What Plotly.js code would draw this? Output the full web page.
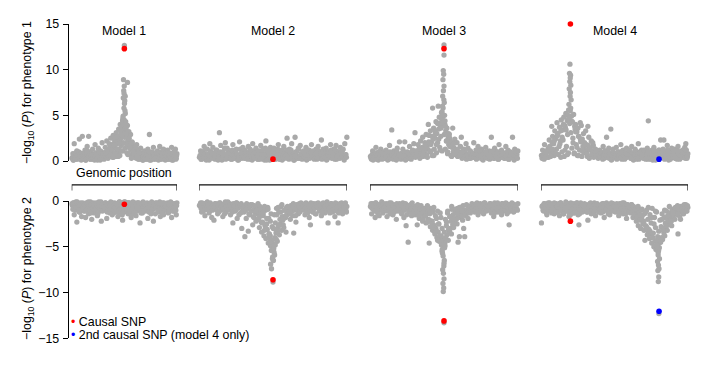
<!DOCTYPE html>
<html><head><meta charset="utf-8">
<script src="https://cdn.plot.ly/plotly-3.0.1.min.js"></script>
<style>html,body{margin:0;padding:0;background:#fff}#chart{width:725px;height:365px}</style>
</head><body><div id="chart"></div>
<script>
// ---------- DATA ----------
const modelNames = ['Model 1', 'Model 2', 'Model 3', 'Model 4'];
const posRange = [0, 100]; // genomic window (arbitrary units)

// background SNP positions, set A
const bgPos = [0.3,1.1,1.8,2.4,3.5,4.0,4.9,5.6,6.2,7.3,7.9,8.6,9.4,
10.1,10.9,11.5,12.6,13.2,13.8,14.7,15.5,16.1,16.9,17.8,18.4,19.0,19.9,
20.7,21.3,22.2,22.9,23.5,24.4,25.2,25.8,26.7,27.4,28.1,28.9,29.6,
30.4,31.0,31.9,32.5,33.3,34.2,34.8,35.6,36.3,37.1,37.9,38.5,39.4,
40.0,40.8,41.7,42.3,43.0,43.9,44.6,45.2,46.1,46.8,47.5,48.3,49.1,49.8,
50.6,51.2,52.0,52.9,53.6,54.3,55.0,55.9,56.5,57.3,58.2,58.8,59.5,
60.4,61.1,61.7,62.6,63.3,64.0,64.9,65.5,66.2,67.1,67.8,68.4,69.3,
70.1,70.7,71.6,72.3,73.0,73.8,74.5,75.3,76.0,76.8,77.6,78.2,79.1,79.7,
80.5,81.4,82.0,82.7,83.6,84.2,85.0,85.9,86.5,87.2,88.0,88.9,89.5,
90.3,91.1,91.8,92.6,93.2,94.0,94.9,95.5,96.3,97.0,97.8,98.5,99.3,99.9];
// background SNP positions, set B
const bgPosB = [0.7,1.4,2.1,3.0,3.8,4.5,5.2,5.9,6.8,7.6,8.2,9.0,9.8,
10.5,11.2,12.0,12.9,13.5,14.3,15.0,15.8,16.5,17.3,18.1,18.7,19.5,
20.3,21.0,21.7,22.5,23.2,24.0,24.8,25.5,26.2,27.0,27.8,28.5,29.2,29.9,
30.7,31.5,32.2,32.9,33.7,34.5,35.2,35.9,36.7,37.4,38.2,38.9,39.7,
40.4,41.1,42.0,42.6,43.4,44.2,44.9,45.7,46.4,47.1,47.9,48.7,49.4,
50.2,50.9,51.6,52.4,53.2,53.9,54.7,55.4,56.2,56.9,57.7,58.5,59.2,59.9,
60.8,61.4,62.2,62.9,63.7,64.4,65.2,65.9,66.6,67.4,68.1,68.9,69.7,
70.4,71.2,71.9,72.7,73.4,74.1,74.9,75.6,76.4,77.2,77.9,78.6,79.4,
80.1,80.9,81.7,82.4,83.1,83.9,84.6,85.4,86.2,86.9,87.6,88.4,89.2,89.8,
90.7,91.4,92.2,92.9,93.6,94.4,95.2,95.9,96.7,97.4,98.1,98.9,99.6];

// -log10(P): phenotype 1 (top) and phenotype 2 (bottom, drawn negative) — set A
const m1Bg1 = [.3,.8,.1,1.9,.5,.2,1.1,.6,.4,2.4,.9,.2,.7,
2.7,.3,.8,1.2,.1,.6,1.6,.4,2.7,.9,.2,1.0,.5,1.3,
.2,.7,1.8,.4,.9,.1,1.4,.6,.3,1.1,.8,2.0,.5,
.9,.3,1.5,.7,2.2,.4,1.2,1.9,.6,2.5,1.0,1.7,2.8,
1.4,2.3,.8,3.1,1.9,2.6,3.5,2.2,4.0,3.0,3.8,4.4,3.3,4.5,
4.2,3.6,2.7,3.9,2.4,3.2,1.8,2.9,1.3,2.1,.9,1.6,.6,
1.2,.4,1.8,.7,.2,1.0,.5,1.4,.3,.9,.1,.6,1.1,
.5,.2,.8,1.3,.4,2.9,.7,.1,1.0,.6,1.5,.3,.9,.2,
.6,1.1,.3,.8,1.6,.2,.5,1.0,.4,1.3,.7,.1,.9,
.4,1.2,.2,.7,.9,.3,1.5,.6,.1,1.0,.5,1.3,.3,.8];
const m1Bg2 = [-.3,-.9,-.2,-1.5,-.6,-.1,-2.3,-.8,-.4,-1.2,-.5,-.2,-1.7,
-.7,-.3,-1.1,-.5,-1.8,-.2,-.9,-.4,-1.4,-.6,-.1,-1.0,-2.0,-.5,
-.2,-1.3,-.6,-.3,-.8,-1.6,-.4,-.1,-1.1,-.7,-2.2,-.5,-.9,
-.4,-1.0,-.2,-.7,-1.9,-.3,-.8,-.5,-1.3,-.1,-.6,-1.5,-.3,
-.9,-.2,-1.2,-.5,-.3,-1.7,-.8,-.1,-.6,-1.0,-.4,-2.1,-.2,-.7,
-.5,-1.1,-.3,-.8,-1.4,-.2,-.6,-.9,-1.8,-.4,-.1,-1.2,-.7,
-.3,-1.6,-.6,-.2,-1.0,-.5,-2.4,-.8,-.3,-1.3,-.1,-.7,-.4,
-1.1,-.5,-.2,-1.9,-.8,-.3,-.6,-1.4,-.1,-.9,-2.2,-.4,-.7,-.2,
-.6,-.3,-1.2,-.8,-.1,-1.7,-.5,-.9,-.2,-1.5,-.4,-1.0,-.3,
-.8,-.2,-1.3,-.5,-.9,-.1,-1.8,-.6,-.3,-1.1,-.4,-.7,-1.5,-.2];
const m2Bg1 = [.4,1.1,.2,.8,1.6,.5,.1,1.3,.7,1.9,.3,.9,1.5,
.6,.2,1.2,.8,.4,3.1,1.7,.1,1.0,.5,2.0,.7,1.4,.3,
1.1,.5,.2,1.8,.9,.4,1.3,.6,.1,2.1,.8,.3,1.5,
.7,1.2,.3,.9,1.6,.5,.2,1.1,1.9,.4,.8,1.4,.6,
.2,1.0,1.7,.5,.8,1.3,.3,2.2,.6,1.1,.4,1.5,.9,.2,
1.4,.6,1.0,.3,1.8,.7,.2,1.2,.5,1.6,.9,.4,2.5,
.8,1.3,.4,1.9,.6,.1,2.6,1.0,.5,1.4,.3,1.7,.7,
.3,1.1,.8,1.5,.2,.9,1.2,.5,1.8,.4,1.0,.6,1.3,.2,
1.6,.5,.9,2.3,.3,1.1,.7,1.4,.2,1.0,.6,1.8,.4,
.9,1.3,.2,1.7,.6,1.0,.4,1.5,.8,1.2,.3,1.9,.7,2.6];
const m2Bg2 = [-.5,-.2,-1.2,-.7,-.3,-1.6,-.9,-.1,-.6,-1.1,-.4,-1.8,-.8,
-2.1,-.3,-.9,-1.4,-.5,-.2,-1.0,-.7,-1.7,-.4,-.1,-1.2,-.6,-.9,
-.3,-1.5,-.8,-2.4,-.5,-1.1,-.2,-1.9,-.7,-.4,-1.3,-3.0,-.6,
-1.2,-3.9,-1.9,-.8,-3.3,-1.5,-.4,-1.1,-2.6,-1.8,-.9,-2.2,-1.4,
-2.0,-2.9,-1.6,-3.4,-2.3,-3.8,-2.7,-4.1,-3.1,-4.6,-3.6,-4.9,-4.3,-5.2,
-4.7,-4.0,-3.5,-4.4,-2.8,-3.7,-2.5,-3.2,-2.1,-2.9,-1.7,-3.4,-1.5,
-1.3,-.8,-2.0,-.5,-1.6,-3.5,-1.0,-2.3,-.7,-1.4,-.3,-1.1,-.6,
-.9,-.4,-1.5,-.2,-1.0,-.7,-1.8,-2.6,-.5,-1.2,-.3,-.8,-1.4,-.6,
-.2,-1.1,-.7,-1.6,-.4,-.9,-1.3,-.5,-.1,-2.4,-.8,-1.0,-.3,
-1.2,-.6,-1.7,-.3,-.9,-2.4,-.5,-1.1,-.2,-1.4,-.7,-.4,-1.0,-.6];
const m3Bg1 = [.5,.2,1.1,.7,.3,1.5,.9,.1,.6,1.3,.4,.8,1.0,
.3,1.2,.6,.2,1.7,.9,3.4,.4,1.1,.7,.1,1.4,.5,2.1,
.8,.3,1.3,.6,2.1,.2,1.0,.5,1.6,.9,.4,1.2,1.9,
3.1,1.1,.7,1.8,1.4,2.2,1.0,2.6,1.5,2.0,2.9,1.7,4.0,
2.8,3.3,2.1,5.8,3.6,2.5,4.3,3.0,6.0,4.8,3.9,5.3,4.5,5.0,
4.0,3.3,3.6,2.6,2.9,2.2,1.8,3.6,1.5,2.4,1.2,2.0,1.0,
.8,1.6,2.6,.5,1.3,1.0,1.9,.6,1.4,.3,1.1,.9,.4,
2.0,.7,1.2,.3,1.6,.9,.5,1.3,.2,1.0,.6,1.5,.4,.8,
1.1,.5,2.6,.9,.3,1.4,.7,1.0,.2,1.8,.6,1.2,.4,
.9,.3,1.6,.6,1.2,.2,1.0,.5,2.6,.8,1.3,.4,.7,1.1];
const m3Bg2 = [-.6,-1.4,-.3,-.9,-1.8,-.2,-1.1,-.5,-1.6,-.8,-.1,-1.3,-.4,
-1.0,-.3,-1.7,-.6,-.2,-1.2,-.8,-1.5,-.4,-.9,-2.0,-.5,-1.1,-.3,
-.7,-1.4,-.2,-1.8,-.5,-2.7,-.9,-4.5,-1.2,-.4,-1.6,-.8,-1.0,
-1.5,-.6,-2.6,-1.1,-1.9,-.9,-1.4,-2.2,-1.7,-1.0,-2.4,-1.3,-2.0,
-4.6,-2.8,-2.3,-3.2,-2.6,-3.6,-3.0,-4.0,-3.4,-4.4,-3.8,-4.8,-4.2,-5.0,
-4.6,-4.1,-3.7,-4.3,-3.3,-3.0,-3.6,-2.6,-2.9,-2.3,-2.0,-2.5,-4.5,
-3.9,-1.8,-1.4,-2.1,-3.0,-3.9,-1.6,-1.1,-1.9,-.8,-1.3,-.6,-1.0,
-.4,-1.2,-.7,-.2,-1.5,-.9,-.3,-1.1,-.6,-1.4,-.2,-.8,-1.0,-.5,
-.9,-.3,-1.3,-.6,-1.7,-.2,-1.0,-.5,-1.2,-.4,-.8,-1.5,-.3,
-1.1,-.6,-.2,-1.4,-.8,-2.6,-.4,-1.0,-.3,-1.2,-.7,-.5,-.9,-.3];
const m4Bg1 = [.6,1.2,.3,1.8,.9,.4,1.4,2.3,1.0,3.8,2.7,1.9,3.3,
2.5,4.2,3.0,3.7,2.2,4.5,3.4,4.8,3.9,5.2,4.4,5.0,4.6,5.5,
4.9,4.3,5.1,3.8,4.0,3.2,3.6,2.7,4.2,3.9,2.4,3.0,2.0,
3.3,1.8,3.8,2.6,1.4,2.2,1.1,1.7,.8,1.3,.5,1.0,.7,
1.2,.4,.9,1.6,.3,1.1,2.6,.6,1.4,.9,3.5,.2,1.3,.5,
.8,1.5,.3,1.0,.6,1.8,.2,1.2,.7,.4,1.4,.9,.5,
1.1,.3,1.6,.8,.5,1.3,.2,1.0,1.9,.6,.4,1.2,.7,
.3,1.0,.6,1.4,4.4,.8,.2,1.1,.5,1.5,.7,.3,.9,.4,
1.2,2.3,.5,.9,2.3,.3,1.1,1.7,.6,1.0,.2,1.4,.8,
.5,1.3,.9,.2,1.6,.7,1.0,.4,1.2,.6,1.5,1.9,.3,.8];
const m4Bg2 = [-2.4,-.5,-1.1,-.3,-.8,-1.5,-.2,-.9,-.6,-1.3,-.4,-1.0,-.7,
-.3,-1.2,-.6,-1.6,-.2,-.9,-.5,-1.4,-.8,-.1,-1.1,-.4,-1.7,-.6,
-.9,-.3,-1.3,-.6,-1.0,-.2,-1.5,-2.6,-.7,-.4,-1.2,-.8,-.3,
-1.1,-.5,-2.1,-.9,-.3,-1.4,-.7,-1.0,-.2,-1.6,-.6,-.4,-1.2,
-.6,-1.3,-.3,-.9,-1.8,-.5,-.2,-1.1,-.7,-1.5,-.4,-1.0,-.3,-.8,
-1.2,-.5,-.9,-1.6,-.3,-1.0,-.6,-1.4,-.2,-.8,-1.9,-.4,-1.1,
-.7,-1.3,-.4,-1.8,-.9,-1.5,-2.2,-1.1,-2.7,-1.6,-3.0,-2.0,-2.5,
-3.2,-4.3,-2.8,-3.7,-3.4,-4.1,-3.6,-4.6,-4.0,-5.0,-4.4,-5.3,-4.8,-5.6,
-5.1,-4.5,-4.0,-4.2,-3.5,-3.8,-2.9,-3.2,-2.6,-2.4,-1.9,-2.7,-1.6,
-1.3,-2.0,-1.0,-1.5,-3.6,-.8,-2.0,-1.2,-.6,-1.4,-.9,-.4,-1.1,-.7];

// set B
const m1B1 = [.4,.1,.7,.3,.9,.5,.2,.6,1.0,.3,.8,.1,.5,
.6,.2,.9,.4,.1,.7,1.1,.3,.5,.8,.2,.6,.4,
.3,.7,.1,.5,.9,.2,.6,.4,1.0,.1,.8,.3,.5,.7,
.2,.6,1.0,.4,.8,.3,1.3,.5,1.6,.7,1.1,.4,1.9,
.8,1.5,.5,2.1,1.0,2.7,1.3,.6,2.4,1.7,3.2,1.1,2.0,
2.6,1.4,3.0,.9,2.2,1.6,.7,1.9,1.2,.5,1.5,.8,1.1,.4,
.7,.3,.9,.5,1.2,.2,.6,.4,.8,.1,.5,.9,.3,
.6,.2,.8,.4,1.0,.1,.5,.7,.3,.9,.2,.6,.4,
.3,.8,.5,.1,.7,.4,1.0,.2,.6,.9,.3,.5,.8,.2,
.5,.9,.2,.6,.4,.8,.1,.7,.3,1.0,.5,.2,.6];
const m1B2 = [-.5,-.2,-.8,-.3,-1.0,-.6,-.1,-.7,-.4,-1.2,-.3,-.9,-.5,
-.2,-.7,-.4,-1.1,-.6,-.3,-.9,-.1,-.5,-.8,-1.3,-.4,-.6,
-.8,-.3,-.6,-1.0,-.2,-.5,-1.4,-.7,-.4,-.9,-.1,-.6,-1.1,-.3,
-.6,-.9,-.2,-.5,-1.2,-.4,-.8,-.3,-1.0,-.6,-.2,-.7,-1.3,
-.4,-.7,-1.1,-.3,-.6,-.9,-.2,-.5,-1.4,-.8,-.3,-.6,-1.0,
-.3,-.8,-.5,-1.2,-.2,-.7,-1.0,-.4,-.6,-1.5,-.3,-.9,-.5,-.2,
-.7,-.4,-1.1,-.2,-.6,-.9,-.3,-1.3,-.5,-.8,-.2,-1.0,-.6,
-.5,-.9,-.3,-.7,-1.2,-.4,-.6,-.2,-1.0,-.8,-.3,-.5,-1.4,
-.8,-.2,-.6,-1.1,-.4,-.7,-.3,-.9,-1.3,-.5,-.2,-.8,-.6,-1.0,
-.3,-.7,-1.2,-.5,-.2,-.9,-.6,-1.1,-.4,-.8,-.3,-1.0,-.5];
const m2B1 = [.6,.2,1.0,.4,.8,1.3,.3,.7,.1,1.1,.5,.9,.3,
.8,.4,1.2,.1,.6,1.0,.3,.9,.5,1.4,.2,.7,1.1,
.4,.9,.2,1.2,.6,.3,1.0,.7,.1,.5,1.3,.8,.4,1.1,
.3,1.0,.6,.2,.9,1.3,.5,.1,.8,.4,1.2,.7,.2,
.9,.5,1.1,.3,.7,.1,1.4,.6,.2,1.0,.4,.8,1.2,
.5,1.0,.2,.8,1.3,.4,.6,1.1,.1,.9,.3,.7,1.2,.5,
.2,.7,1.2,.4,.9,.1,.6,1.0,.3,1.3,.5,.8,.2,
1.0,.4,.7,.1,1.2,.6,.3,.9,.5,1.1,.2,.8,.4,
.6,1.1,.3,.8,.2,1.3,.5,.9,.1,.7,1.0,.4,1.2,.3,
.4,.8,1.2,.2,.6,1.0,.3,.9,.5,1.3,.1,.7,.4];
const m2B2 = [-.4,-.8,-.2,-1.1,-.6,-.3,-.9,-.5,-1.3,-.2,-.7,-1.0,-.4,
-.6,-.3,-1.0,-.5,-1.2,-.2,-.8,-.4,-.9,-1.4,-.3,-.6,-.1,
-.9,-.4,-.7,-1.2,-.3,-.6,-1.0,-.2,-.8,-1.5,-.5,-.3,-1.1,-.7,
-.5,-1.0,-.3,-.8,-1.4,-.6,-1.1,-.4,-1.7,-.9,-1.3,-.7,-2.0,
-1.2,-.6,-2.3,-.9,-1.6,-3.2,-1.0,-2.5,-.7,-1.9,-3.8,-1.4,-2.8,
-3.0,-1.5,-2.4,-.8,-3.3,-1.2,-2.0,-.6,-1.7,-2.6,-1.0,-1.8,-.7,-1.3,
-.9,-1.4,-.5,-1.1,-.3,-.8,-1.6,-.4,-1.0,-.6,-1.2,-.2,-.9,
-.5,-1.0,-.3,-.7,-1.3,-.4,-.9,-.2,-1.1,-.6,-.8,-1.4,-.3,
-.7,-.3,-1.0,-.5,-1.2,-.2,-.8,-.6,-1.1,-.4,-.9,-1.3,-.3,-.6,
-.4,-.9,-.2,-1.1,-.6,-1.3,-.3,-.8,-.5,-1.0,-.7,-.2,-1.2];
const m3B1 = [.3,.7,.1,.5,.9,.2,.6,1.0,.4,.8,.2,.6,.3,
.8,.4,.1,.7,1.0,.3,.6,.2,.9,.5,1.1,.3,.7,
.5,.2,.8,.4,1.0,.1,.6,.9,.3,.7,.2,1.1,.5,.8,
.4,.9,.6,1.2,.3,.8,1.5,.5,1.0,1.8,.7,1.3,2.1,
1.0,1.8,.6,2.4,1.3,3.0,.9,2.0,3.5,1.5,2.7,1.1,3.9,
2.9,1.3,2.2,.8,1.8,2.5,.6,1.5,1.0,2.0,.7,1.2,.5,.9,
.6,1.0,.3,.8,.5,1.2,.2,.7,.4,.9,.3,.6,.8,
.4,.7,.2,.9,.5,1.1,.3,.6,.1,.8,.4,1.0,.3,
.6,.2,.9,.4,1.1,.3,.7,.5,1.0,.2,.8,.4,.6,.9,
.3,.8,.5,1.0,.2,.6,.9,.4,.7,.1,1.1,.5,.3];
const m3B2 = [-.3,-.8,-.5,-1.1,-.2,-.7,-1.3,-.4,-.9,-.6,-1.0,-.3,-.7,
-.6,-1.1,-.4,-.8,-1.4,-.2,-.9,-.5,-1.2,-.7,-.3,-1.0,-.6,
-.8,-.4,-1.2,-.6,-1.0,-.3,-1.5,-.7,-.5,-1.1,-.9,-.2,-1.3,-.6,
-.7,-1.2,-.4,-1.6,-.9,-.5,-1.3,-2.0,-.8,-1.5,-1.1,-2.3,-1.0,
-1.4,-.8,-2.2,-1.2,-2.8,-1.6,-3.3,-1.1,-2.5,-3.9,-1.8,-3.0,-4.4,
-3.4,-2.0,-2.7,-1.3,-3.1,-1.7,-2.2,-.9,-1.5,-2.4,-1.1,-1.9,-.8,-1.4,
-1.2,-.7,-1.6,-.5,-1.0,-1.4,-.4,-.9,-1.2,-.6,-1.0,-.3,-.8,
-.5,-1.0,-.3,-.8,-1.2,-.4,-.9,-.6,-1.3,-.2,-.7,-1.1,-.5,
-.7,-.3,-1.1,-.5,-.9,-1.4,-.4,-.8,-.2,-1.0,-.6,-1.2,-.3,-.8,
-.5,-1.0,-.3,-.7,-1.2,-.4,-.9,-.2,-.6,-1.1,-.8,-.4,-1.0];
const m4B1 = [.3,.7,.2,.9,.5,1.2,.4,1.6,.8,2.0,1.1,.6,2.4,
1.3,2.8,.7,1.9,3.3,1.0,2.3,.5,3.7,1.6,2.9,.9,4.1,
3.1,1.4,2.5,.8,3.5,1.8,.6,2.7,1.2,2.1,.5,1.6,.9,1.3,
1.0,.5,1.7,.3,1.2,.7,2.0,.4,.9,.6,1.1,.3,.8,
.5,.9,.2,.7,1.1,.4,.6,1.0,.3,.8,.1,.6,.9,
.4,.8,.2,1.0,.5,.7,.3,1.1,.6,.2,.9,.4,.7,1.2,
.6,.3,.9,.1,.7,1.1,.4,.8,.2,.6,1.0,.5,.3,
.8,.4,1.0,.2,.6,.9,.3,1.2,.5,.7,.1,.8,.4,
.2,.7,.4,1.0,.6,.3,.9,.5,1.2,.1,.8,.4,.6,1.0,
.7,.3,1.1,.5,.8,.2,.6,1.0,.4,.9,.3,1.2,.5];
const m4B2 = [-.6,-1.0,-.3,-.8,-1.3,-.4,-.9,-.2,-1.1,-.5,-.7,-1.4,-.3,
-.8,-.4,-1.1,-.6,-.2,-.9,-1.3,-.5,-.7,-1.0,-.3,-.8,-1.5,
-.4,-.9,-.6,-1.2,-.3,-.7,-1.0,-.5,-1.4,-.2,-.8,-1.1,-.6,-.4,
-.7,-1.2,-.4,-.9,-.2,-1.0,-.6,-1.3,-.5,-.8,-.3,-1.1,-.6,
-.9,-.5,-1.2,-.3,-.7,-1.0,-.4,-1.4,-.6,-.8,-.2,-1.1,-.5,
-.6,-1.1,-.3,-.8,-1.3,-.5,-.9,-.2,-1.0,-.7,-1.4,-.4,-.8,-1.2,
-.8,-.4,-1.2,-.6,-1.5,-.9,-1.8,-.7,-1.3,-2.1,-1.0,-1.6,-2.4,
-1.4,-2.7,-1.0,-2.0,-3.1,-1.5,-2.4,-.8,-3.5,-1.8,-2.9,-1.2,-3.9,
-3.3,-2.1,-2.8,-1.4,-3.0,-1.8,-2.4,-1.1,-2.0,-1.6,-1.3,-2.2,-.9,-1.5,
-1.1,-.7,-1.4,-.5,-1.0,-1.7,-.6,-.9,-1.2,-.4,-.8,-1.1,-.5];

// SNPs in LD with the causal variants (peak regions)
const m1PkPos = [48.5,49.2,49.6,50.0,50.8,49.9,50.4,49.4,50.9,49.0,50.1,48.8,51.3,49.7,50.6,48.2,51.6,47.7,52.1,53.0,
36.5,38.2,39.6,40.5,41.4,42.7,43.5,44.2,45.5,46.3,47.2,48.0,51.5,52.4,53.3,54.6,55.4,56.7,57.5,58.4,59.6,61.0,62.5,63.8];
const m1Pk1 = [4.6,8.9,5.8,12.65,7.1,8.2,6.6,7.7,5.2,6.9,6.3,4.9,4.3,7.4,5.5,3.9,3.6,3.4,3.1,8.6,
.6,1.2,.4,1.8,.9,2.6,1.3,.5,2.0,3.4,1.1,2.8,3.0,1.7,.7,2.5,1.4,.3,2.0,1.0,.8,1.5,.5,.9];
const m1Pk2 = [-.3,-.6,-.2,-.4,-.8,-.1,-.5,-1.1,-.3,-.7,-.2,-.9,-.4,-.6,-.1,-1.3,-.5,-.3,-.8,-.2,
-.5,-.2,-1.0,-.4,-.7,-.3,-1.2,-.6,-.1,-.8,-.4,-1.5,-.3,-.9,-.5,-.2,-1.1,-.6,-.3,-.8,-1.3,-.4,-.7,-.2];
const m2PkPos = [49.0,48.4,50.3,49.6,51.1,48.9,50.7,49.3,51.5,47.8,50.0,52.2,47.2,49.8,50.5,48.1,
37.4,38.6,39.9,40.6,41.5,42.6,43.4,44.3,45.0,45.8,46.6,47.3,48.2,51.8,52.6,53.5,54.2,55.1,56.0,56.8,57.7,58.6,59.8,61.2];
const m2Pk1 = [.3,.8,.5,1.0,.2,.6,1.2,.4,.7,.1,.9,.5,1.1,.3,.6,.8,
.3,.9,.5,1.1,.2,.7,1.3,.4,.8,.1,1.0,.6,.3,.9,.5,1.2,.2,.7,1.0,.4,.8,.6,.3,1.1];
const m2Pk2 = [-7.4,-6.9,-6.5,-6.3,-5.9,-5.4,-5.6,-5.0,-4.8,-4.5,-8.85,-4.2,-4.0,-6.1,-5.2,-3.8,
-.5,-1.1,-.3,-1.8,-.8,-2.4,-1.3,-.6,-3.0,-1.9,-.9,-3.6,-2.2,-3.1,-1.5,-.7,-2.6,-1.2,-.4,-2.0,-1.0,-1.6,-.6,-1.2];
const m3PkPos = [49.5,49.8,49.3,50.0,49.6,49.1,49.9,50.2,49.4,48.7,50.4,48.2,50.7,47.6,49.0,50.0,50.0,
36.0,37.5,38.8,40.3,41.2,42.0,43.1,44.0,44.9,45.7,46.5,47.4,48.1,48.8,51.0,51.7,52.5,53.2,54.0,55.2,56.3,57.6,58.9,60.5,62.4];
const m3Pk1 = [9.9,9.5,8.9,8.2,7.7,7.1,6.7,6.4,5.8,5.4,5.0,4.7,4.4,4.2,6.0,12.7,11.6,
.7,1.4,.4,2.0,1.1,2.7,.6,3.3,1.8,4.1,2.4,1.2,3.6,5.0,3.8,2.2,1.0,3.0,1.6,.5,1.9,.8,1.3,.6,1.0];
const m3Pk2 = [-9.9,-9.5,-9.0,-8.5,-7.9,-7.5,-7.1,-6.5,-6.0,-5.5,-5.1,-4.6,-4.9,-4.3,-5.7,-13.3,-6.8,
-.9,-1.6,-.5,-2.1,-1.2,-2.8,-.7,-3.5,-1.9,-4.3,-2.5,-1.3,-3.8,-5.3,-4.0,-2.3,-1.1,-3.1,-1.7,-.6,-2.0,-.9,-1.4,-.7,-1.1];
const m4PkPos = [19.7,19.4,20.1,19.9,19.6,20.3,19.2,20.0,19.8,20.5,19.0,20.2,18.8,20.0,
79.8,80.1,79.5,80.3,79.9,79.3,80.6,79.7,80.0,79.1,80.4,78.8,80.2,
6.5,7.8,9.0,10.4,11.2,12.3,13.5,14.4,15.2,16.3,17.1,18.0,18.9,21.0,21.8,22.7,23.6,24.5,25.6,26.8,28.2,29.7,31.3,33.0,
66.0,67.4,68.7,70.0,71.2,72.1,73.0,74.2,75.1,76.0,76.9,77.8,78.6,81.3,82.2,83.0,84.1,85.0,86.2,87.3,88.5,89.8,91.4,93.0];
const m4Pk1 = [10.6,9.6,9.4,9.1,8.7,8.3,7.9,7.5,7.1,6.7,6.2,5.8,5.6,15.4,
.4,.8,.2,1.1,.6,.3,.9,.5,1.2,.7,.4,1.0,.6,
.5,1.3,2.2,.8,3.0,1.6,.4,2.6,4.0,1.2,3.4,.7,4.6,4.3,2.0,.9,3.2,1.5,.6,2.4,1.1,1.8,.8,1.3,
.3,.9,.5,1.2,.2,.7,1.0,.4,.8,.1,1.1,.6,.3,.9,.5,1.3,.2,.7,1.0,.4,.8,.6,.3,1.1];
const m4Pk2 = [-.4,-.9,-.3,-1.2,-.6,-.2,-.8,-1.5,-.5,-1.0,-.3,-.7,-1.1,-.4,
-8.8,-8.3,-7.6,-7.4,-7.0,-6.6,-6.3,-5.9,-5.4,-5.0,-4.6,-4.3,-12.3,
-.4,-.9,-.2,-1.2,-.6,-.3,-1.0,-.5,-1.4,-.8,-.2,-1.1,-.6,-.3,-.9,-1.3,-.5,-.2,-.8,-1.0,-.4,-.7,-1.2,-.5,
-.6,-1.5,-.9,-2.2,-1.2,-2.9,-.7,-3.3,-1.8,-4.0,-2.5,-1.1,-4.8,-4.4,-2.0,-3.2,-1.0,-2.7,-1.6,-.6,-2.2,-1.3,-.8,-1.4];

// causal SNPs (one per model) and second causal SNP (model 4 only)
const causalPos = [50, 50, 50, 20];
const causalP1 = [12.3, 0.2, 12.3, 15.0];
const causalP2 = [-0.35, -8.6, -13.1, -2.2];
const causal2Pos = [80.3];
const causal2P1 = [0.2];
const causal2P2 = [-12.05];

const yTicksTop = [0, 5, 10, 15];
const yTicksBottom = [-15, -10, -5, 0];

// ---------- STYLE / LAYOUT ----------
const W = 725, H = 365;
const px = v => v / W;
const py = v => 1 - v / H;
const FONT = 'Liberation Sans, Arial, Helvetica, sans-serif';
const FS = 12.4;
const GRAY = '#a9a9a9', RED = '#ff0000', BLUE = '#0000ff';
const MS = 5.3;
const panelPx = [[71.7, 177], [199, 347], [370, 518], [541, 688]];

const bg1 = [m1Bg1, m2Bg1, m3Bg1, m4Bg1];
const bg2 = [m1Bg2, m2Bg2, m3Bg2, m4Bg2];
const bB1 = [m1B1, m2B1, m3B1, m4B1];
const bB2 = [m1B2, m2B2, m3B2, m4B2];
const pkPos = [m1PkPos, m2PkPos, m3PkPos, m4PkPos];
const pk1 = [m1Pk1, m2Pk1, m3Pk1, m4Pk1];
const pk2 = [m1Pk2, m2Pk2, m3Pk2, m4Pk2];

const axName = i => (i === 0 ? 'x' : 'x' + (i + 1));
const traces = [];
const base = {type: 'scatter', mode: 'markers', cliponaxis: false, hoverinfo: 'skip', showlegend: false};
for (let i = 0; i < 4; i++) {
  const xs = bgPos.concat(bgPosB, pkPos[i]);
  traces.push(Object.assign({}, base, {name: modelNames[i] + ' phenotype 1', x: xs, y: bg1[i].concat(bB1[i], pk1[i]), xaxis: axName(i), yaxis: 'y', marker: {color: GRAY, size: MS}}));
  traces.push(Object.assign({}, base, {name: modelNames[i] + ' phenotype 2', x: xs, y: bg2[i].concat(bB2[i], pk2[i]), xaxis: axName(i), yaxis: 'y2', marker: {color: GRAY, size: MS}}));
}
for (let i = 0; i < 4; i++) {
  traces.push(Object.assign({}, base, {name: 'Causal SNP', x: [causalPos[i]], y: [causalP1[i]], xaxis: axName(i), yaxis: 'y', marker: {color: RED, size: 5.6}}));
  traces.push(Object.assign({}, base, {name: 'Causal SNP', x: [causalPos[i]], y: [causalP2[i]], xaxis: axName(i), yaxis: 'y2', marker: {color: RED, size: 5.6}}));
}
traces.push(Object.assign({}, base, {name: '2nd causal SNP', x: causal2Pos, y: causal2P1, xaxis: 'x4', yaxis: 'y', marker: {color: BLUE, size: 5.6}}));
traces.push(Object.assign({}, base, {name: '2nd causal SNP', x: causal2Pos, y: causal2P2, xaxis: 'x4', yaxis: 'y2', marker: {color: BLUE, size: 5.6}}));

const yAxisBase = {
  anchor: 'free', position: px(67.7), showline: true, linecolor: '#000', linewidth: 1,
  ticks: 'outside', ticklen: 5, tickwidth: 1, tickcolor: '#000', ticklabelstandoff: 1,
  showgrid: false, zeroline: false, tickfont: {size: FS, color: '#000'}, fixedrange: true
};

const layout = {
  width: W, height: H, margin: {l: 0, r: 0, t: 0, b: 0},
  paper_bgcolor: '#fff', plot_bgcolor: 'rgba(0,0,0,0)', showlegend: false,
  font: {family: FONT, size: FS, color: '#000'},
  yaxis: Object.assign({}, yAxisBase, {domain: [py(161), py(24)], range: [0, 15], tickvals: yTicksTop}),
  yaxis2: Object.assign({}, yAxisBase, {domain: [py(338.3), py(201)], range: [-15, 0], tickvals: yTicksBottom}),
  shapes: [], annotations: []
};
for (let i = 0; i < 4; i++) {
  layout[i === 0 ? 'xaxis' : 'xaxis' + (i + 1)] = {domain: [px(panelPx[i][0]), px(panelPx[i][1])], range: posRange, visible: false, fixedrange: true};
  layout.shapes.push({
    type: 'path', xref: axName(i), yref: 'paper',
    path: `M ${posRange[0]},${py(190.5)} L ${posRange[0]},${py(184.8)} L ${posRange[1]},${py(184.8)} L ${posRange[1]},${py(190.5)}`,
    line: {color: '#111', width: 1.2}
  });
  layout.annotations.push({
    xref: 'paper', yref: 'paper', x: px((panelPx[i][0] + panelPx[i][1]) / 2), y: py(31.3),
    text: modelNames[i], showarrow: false, xanchor: 'center', yanchor: 'middle', font: {size: FS}
  });
}
layout.annotations.push(
  {xref: 'paper', yref: 'paper', x: px((panelPx[0][0] + panelPx[0][1]) / 2), y: py(173), text: 'Genomic position', showarrow: false, xanchor: 'center', yanchor: 'middle', font: {size: FS}},
  {xref: 'paper', yref: 'paper', x: px(28), y: py(93), textangle: -90, text: '\u2212log<sub>10</sub> (<i>P</i>) for phenotype 1', showarrow: false, xanchor: 'center', yanchor: 'middle', font: {size: FS}},
  {xref: 'paper', yref: 'paper', x: px(28), y: py(269), textangle: -90, text: '\u2212log<sub>10</sub> (<i>P</i>) for phenotype 2', showarrow: false, xanchor: 'center', yanchor: 'middle', font: {size: FS}},
  {xref: 'paper', yref: 'paper', x: px(70), y: py(321.5), text: '<span style="color:#ff0000">\u2022</span> Causal SNP', showarrow: false, xanchor: 'left', yanchor: 'middle', borderpad: 0, font: {size: FS}},
  {xref: 'paper', yref: 'paper', x: px(70), y: py(334.5), text: '<span style="color:#0000ff">\u2022</span> 2nd causal SNP (model 4 only)', showarrow: false, xanchor: 'left', yanchor: 'middle', borderpad: 0, font: {size: FS}}
);

Plotly.newPlot('chart', traces, layout, {displayModeBar: false, staticPlot: true});
</script>
</body></html>
